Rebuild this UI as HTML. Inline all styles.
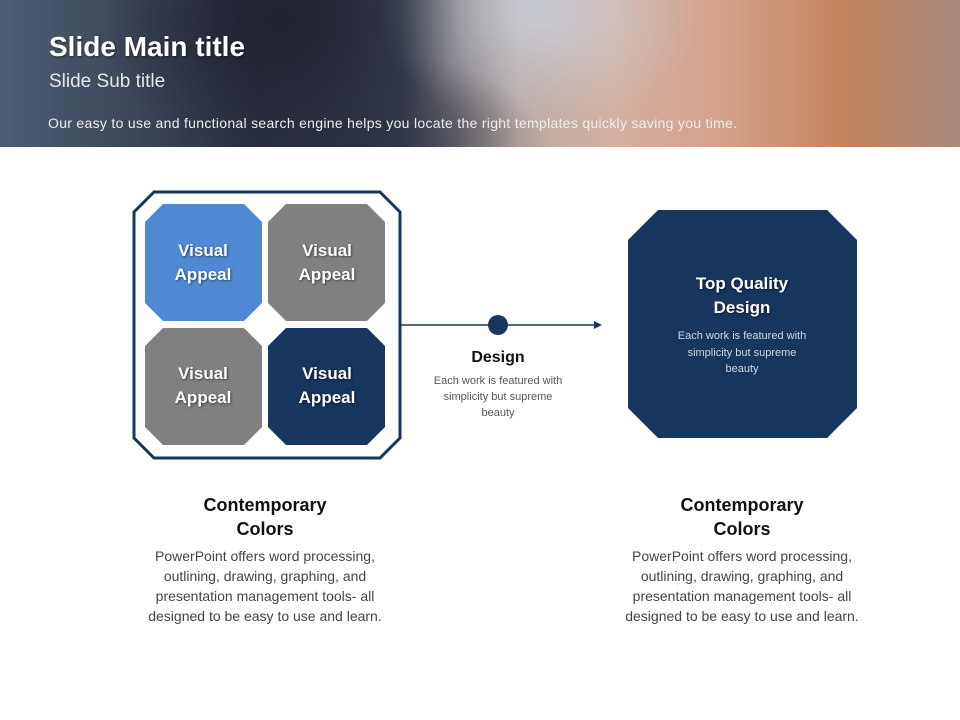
<!DOCTYPE html>
<html><head><meta charset="utf-8"><style>
body{margin:0;width:960px;height:720px;overflow:hidden;background:#fff;font-family:"Liberation Sans",sans-serif;position:relative}
.hdr{position:absolute;left:0;top:0;width:960px;height:147px;background:
radial-gradient(ellipse 180px 140px at 280px 20px,rgba(30,33,45,.95),rgba(30,33,45,0)),
radial-gradient(ellipse 200px 100px at 350px 150px,rgba(40,45,60,.7),rgba(40,45,60,0)),
radial-gradient(ellipse 160px 120px at 540px 10px,rgba(200,205,215,.9),rgba(200,205,215,0)),
linear-gradient(90deg,#4e5d73 0%,#2c3140 27%,#3a4050 42%,#b9aaa5 54%,#d6b0a0 64%,#d2a088 76%,#c2845e 88%,#a88a7a 100%)}
.t{position:absolute;color:#fff}
</style></head><body>
<div class="hdr"></div>
<div class="t" style="left:49px;top:31px;font-size:28px;font-weight:bold;text-shadow:1px 1px 2px rgba(0,0,0,.5)">Slide Main title</div>
<div class="t" style="left:49px;top:71px;font-size:19px;color:#e8e8e8">Slide Sub title</div>
<div class="t" style="left:48px;top:115px;font-size:14px;letter-spacing:0.3px;color:#eee">Our easy to use and functional search engine helps you locate the right templates quickly saving you time.</div>
<svg width="960" height="720" style="position:absolute;left:0;top:0">
<polygon points="154,192 380,192 400,212 400,438 380,458 154,458 134,438 134,212" fill="#fff" stroke="#1a365f" stroke-width="3"/>
<polygon points="163,204 244,204 262,222 262,303 244,321 163,321 145,303 145,222" fill="#5089d3"/>
<polygon points="286,204 367,204 385,222 385,303 367,321 286,321 268,303 268,222" fill="#808080"/>
<polygon points="163,328 244,328 262,346 262,427 244,445 163,445 145,427 145,346" fill="#808080"/>
<polygon points="286,328 367,328 385,346 385,427 367,445 286,445 268,427 268,346" fill="#17365e"/>
<line x1="400" y1="325" x2="596" y2="325" stroke="#1a365f" stroke-width="1.5"/>
<polygon points="594,321 602,325 594,329" fill="#1a365f"/>
<circle cx="498" cy="325" r="10" fill="#1a365f"/>
<polygon points="658,210 827,210 857,240 857,408 827,438 658,438 628,408 628,240" fill="#17365e"/>
<g fill="#fff" font-weight="bold" font-size="17" text-anchor="middle" style="text-shadow:1px 1px 2px rgba(0,0,0,.5)">
<text x="203" y="256">Visual</text><text x="203" y="280">Appeal</text>
<text x="327" y="256">Visual</text><text x="327" y="280">Appeal</text>
<text x="203" y="379">Visual</text><text x="203" y="403">Appeal</text>
<text x="327" y="379">Visual</text><text x="327" y="403">Appeal</text>
<text x="742" y="289">Top Quality</text><text x="742" y="313">Design</text>
</g>
<g fill="#d0d6e0" font-size="11" text-anchor="middle">
<text x="742" y="339">Each work is featured with</text><text x="742" y="356">simplicity but supreme</text><text x="742" y="372">beauty</text>
</g>
<text x="498" y="362" font-size="16" font-weight="bold" text-anchor="middle" fill="#111">Design</text>
<g fill="#555" font-size="11" text-anchor="middle">
<text x="498" y="384">Each work is featured with</text><text x="498" y="400">simplicity but supreme</text><text x="498" y="416">beauty</text>
</g>
<g font-size="18" font-weight="bold" text-anchor="middle" fill="#111">
<text x="265" y="511">Contemporary</text><text x="265" y="535">Colors</text>
<text x="742" y="511">Contemporary</text><text x="742" y="535">Colors</text>
</g>
<g font-size="14" text-anchor="middle" fill="#444">
<text x="265" y="561">PowerPoint offers word processing,</text><text x="265" y="581">outlining, drawing, graphing, and</text><text x="265" y="601">presentation management tools- all</text><text x="265" y="621">designed to be easy to use and learn.</text>
<text x="742" y="561">PowerPoint offers word processing,</text><text x="742" y="581">outlining, drawing, graphing, and</text><text x="742" y="601">presentation management tools- all</text><text x="742" y="621">designed to be easy to use and learn.</text>
</g>
</svg>
</body></html>
